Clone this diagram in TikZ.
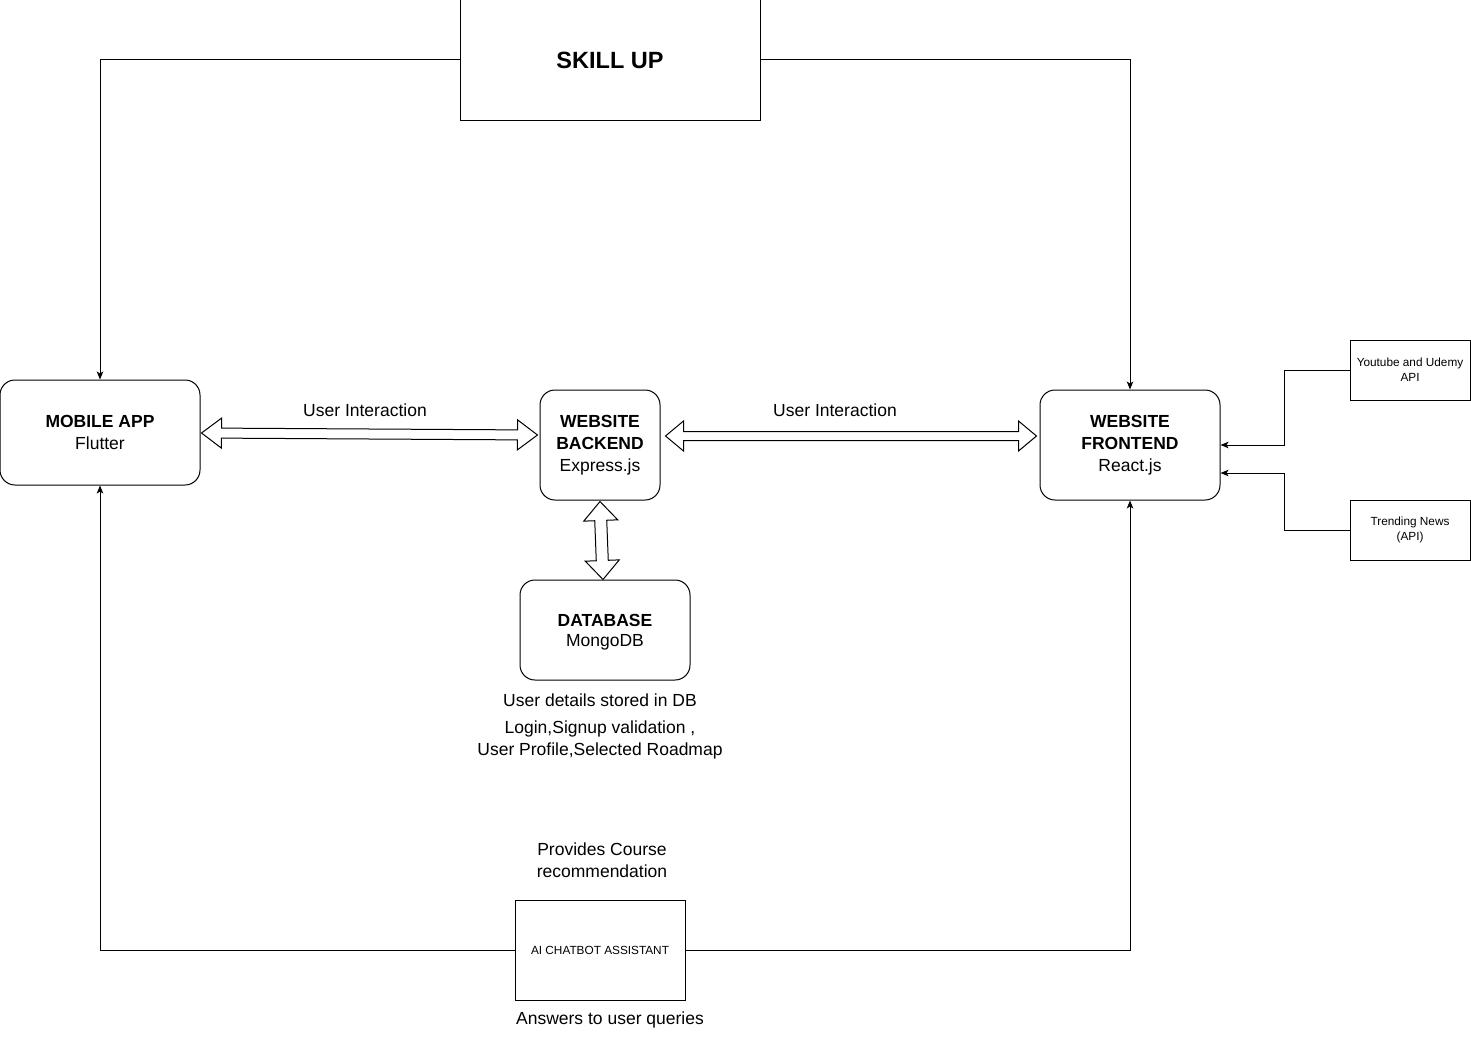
\documentclass[tikz,border=0pt]{standalone}
\usepackage{fontspec}
\setmainfont{Liberation Sans}
\usetikzlibrary{calc,arrows.meta}
\tikzset{
  rbox/.style={draw, line width=1pt, rounded corners=15pt, align=center, inner sep=0pt},
  sbox/.style={draw, line width=1pt, align=center, inner sep=0pt},
  conn/.style={line width=1pt, -{Stealth[length=8pt,width=6.5pt,inset=2pt]}},
  lbl/.style={align=center, inner sep=0pt},
  big/.style={font=\fontsize{17.5}{22}\selectfont},
  small/.style={font=\fontsize{11.8}{15}\selectfont},
  hollow/.style={draw, line width=1pt, line join=miter, fill=white}
}
% #1 start, #2 end, #3 shaft half width, #4 head half width, #5 head length
\newcommand{\blockarr}[5]{%
  \path let \p1=($(#2)-(#1)$) in \pgfextra{%
    \pgfmathsetmacro\BAlen{veclen(\x1,\y1)}%
    \pgfmathsetmacro\BAang{atan2(\y1,\x1)}%
    \global\let\BAlen\BAlen\global\let\BAang\BAang};
  \begin{scope}[shift={(#1)}, rotate=\BAang]
    \pgfmathsetmacro\BAb{\BAlen-#5}
    \draw[hollow] (0pt,0pt) -- (#5pt,#4pt) -- (#5pt,#3pt) -- (\BAb pt,#3pt) -- (\BAb pt,#4pt)
      -- (\BAlen pt,0pt) -- (\BAb pt,-#4pt) -- (\BAb pt,-#3pt) -- (#5pt,-#3pt) -- (#5pt,-#4pt) -- cycle;
  \end{scope}}
\begin{document}
\begin{tikzpicture}[x=1pt,y=-1pt]
\useasboundingbox (0,0) rectangle (1471,1041);
% nodes
\node[sbox, minimum width=300, minimum height=120, font=\fontsize{23.5}{28}\selectfont\bfseries] (skill) at (610,60) {SKILL UP};
\node[rbox, big, minimum width=200, minimum height=105] (mobile) at (100,432.5) {\textbf{MOBILE APP}\\Flutter};
\node[rbox, big, minimum width=120, minimum height=110] (backend) at (600,445) {\textbf{WEBSITE}\\\textbf{BACKEND}\\Express.js};
\node[rbox, big, minimum width=180, minimum height=110] (frontend) at (1130,445) {\textbf{WEBSITE}\\\textbf{FRONTEND}\\React.js};
\node[rbox, font=\fontsize{17.5}{20}\selectfont, minimum width=170, minimum height=100, text depth=0pt] (db) at (605,630) {\textbf{DATABASE}\\MongoDB};
\node[sbox, small, minimum width=170, minimum height=100] (chat) at (600,950) {AI CHATBOT ASSISTANT};
\node[sbox, small, minimum width=120, minimum height=60] (yt) at (1410,370) {Youtube and Udemy\\API};
\node[sbox, small, minimum width=120, minimum height=60] (tn) at (1410,530) {Trending News\\(API)};
% labels
\node[lbl, big] (ui1) at (365,410) {User Interaction};
\node[lbl, big] (ui2) at (835,410) {User Interaction};
\node[lbl, big] (dbl1) at (600,700) {User details stored in DB};
\node[lbl, big] (dbl2) at (600,740) {Login,Signup validation ,\\User Profile,Selected Roadmap};
\node[lbl, big] (prov) at (602,860) {Provides Course\\recommendation};
\node[lbl, big] (ans) at (610,1020) {Answers to user queries};
% connectors
\draw[conn] (skill.west) -| (mobile.north);
\draw[conn] (skill.east) -| (frontend.north);
\draw[conn] (chat.west) -| (mobile.south);
\draw[conn] (chat.east) -| (frontend.south);
\draw[conn] (yt.west) -- ++(-65,0) |- (frontend.east);
\draw[conn] (tn.west) -- ++(-65,0) |- ($(frontend.east)+(0,28)$);
% block arrows
\coordinate (a1s) at ($(mobile.east)+(1,0.5)$);
\coordinate (a1e) at ($(backend.west)+(-2,-10)$);
\blockarr{a1s}{a1e}{5}{15}{20}
\coordinate (a2s) at ($(backend.east)+(5,-9)$);
\coordinate (a2e) at ($(frontend.west)+(-3,-9)$);
\blockarr{a2s}{a2e}{4.5}{15}{18}
\coordinate (a3s) at ($(backend.south)+(0,1)$);
\coordinate (a3e) at ($(db.north)+(-2,0)$);
\blockarr{a3s}{a3e}{6}{17}{19}
\end{tikzpicture}
\end{document}
